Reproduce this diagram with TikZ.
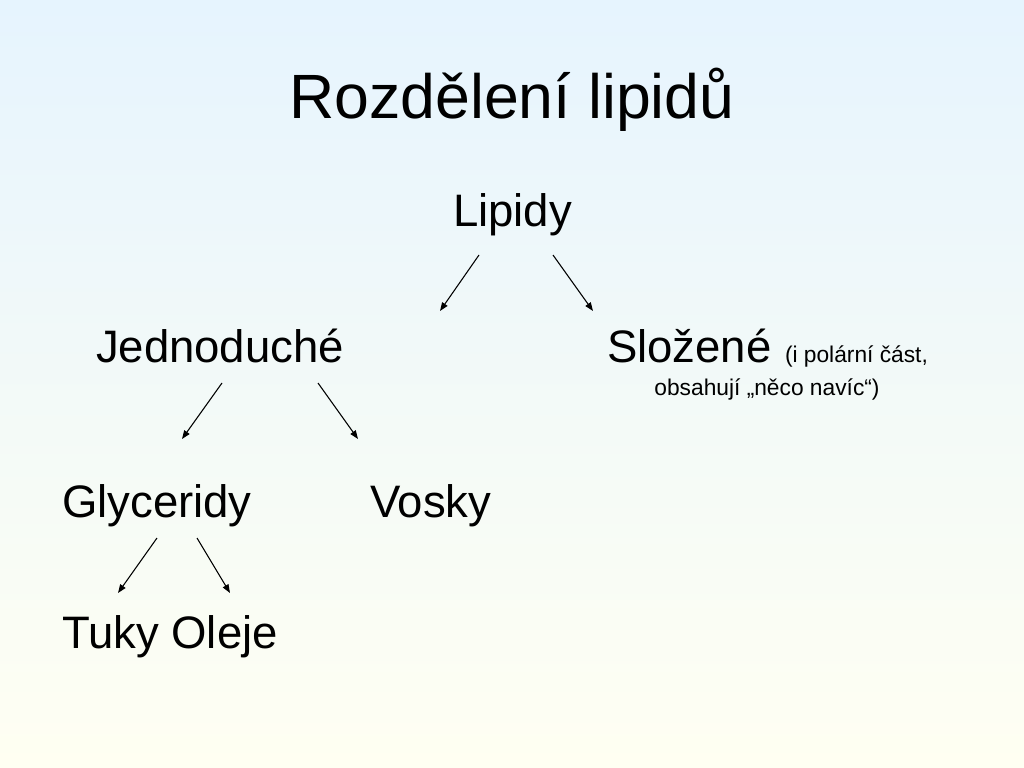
\documentclass[tikz,border=0pt]{standalone}
\usepackage{fontspec}
\setmainfont{Liberation Sans}
\usetikzlibrary{arrows.meta}
\definecolor{bgtop}{HTML}{E6F4FE}
\definecolor{bgbot}{HTML}{FFFFF2}
\begin{document}
\begin{tikzpicture}[x=0.703125pt,y=-0.703125pt,
  txt/.style={inner sep=0pt,outer sep=0pt,anchor=base west,text=black},
  big/.style={txt,font=\fontsize{32}{38}\selectfont},
  small/.style={txt,font=\fontsize{16}{19}\selectfont},
  arr/.style={draw=black,line width=0.75pt,-{Triangle[length=6pt,width=4.5pt]}}]
\shade[top color=bgtop,bottom color=bgbot] (0,0) rectangle (1024,768);
\useasboundingbox (0,0) rectangle (1024,768);
% title
\node[txt,anchor=base,font=\fontsize{44}{53}\selectfont] (title) at (512,119) {Rozdělení lipidů};
% nodes
\node[big] (lipidy) at (453,227) {Lipidy};
\node[big] (jedno) at (96,362) {Jednoduché};
\node[big] (slozene) at (607,362) {Složené};
\node[small] (pozn1) at (785,362) {(i polární část,};
\node[small,anchor=base] (pozn2) at (767,395) {obsahují „něco navíc“)};
\node[big] (glyc) at (62,517) {Glyceridy};
\node[big] (vosky) at (370,517) {Vosky};
\node[big] (tuky) at (62,648) {Tuky Oleje};
% arrow endpoints
\coordinate (l1s) at (479,255); \coordinate (l1e) at (440,311);
\coordinate (l2s) at (553,255); \coordinate (l2e) at (593,311);
\coordinate (j1s) at (222,383); \coordinate (j1e) at (182,439);
\coordinate (j2s) at (318,383); \coordinate (j2e) at (358,439);
\coordinate (g1s) at (157,538); \coordinate (g1e) at (118,593);
\coordinate (g2s) at (197,538); \coordinate (g2e) at (230,593);
\draw[arr] (l1s) -- (l1e);
\draw[arr] (l2s) -- (l2e);
\draw[arr] (j1s) -- (j1e);
\draw[arr] (j2s) -- (j2e);
\draw[arr] (g1s) -- (g1e);
\draw[arr] (g2s) -- (g2e);
\end{tikzpicture}
\end{document}
